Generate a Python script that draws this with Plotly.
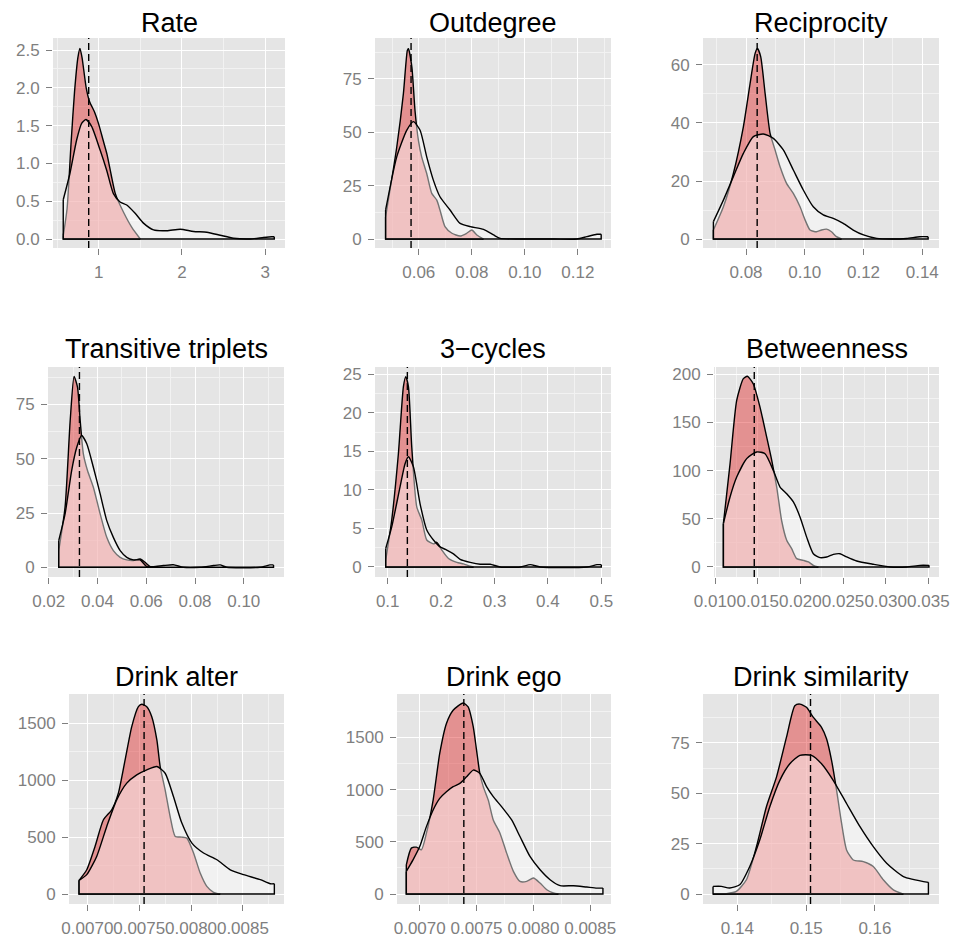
import plotly.graph_objects as go

TITLES = ["Rate", "Outdegree", "Reciprocity", "Transitive triplets", "3\u2212cycles",
          "Betweenness", "Drink alter", "Drink ego", "Drink similarity"]

# observed values (dashed lines)
OBS = [0.88, 0.0571, 0.0838, 0.0326, 0.1368, 0.0146, 0.007547, 0.007388, 0.15063]

# narrow density (red)
A_X = [
    [0.575, 0.62, 0.67, 0.71, 0.75, 0.775, 0.80, 0.85, 0.89, 0.95, 1.0, 1.05, 1.1, 1.15, 1.2, 1.3, 1.4, 1.5],
    [0.0475, 0.0517, 0.0542, 0.0557, 0.0561, 0.0574, 0.0586, 0.0599, 0.0611, 0.063, 0.0649, 0.0668, 0.068,
     0.0699, 0.0725, 0.0756, 0.0781, 0.08, 0.0819, 0.0844],
    [0.0689, 0.0723, 0.0757, 0.0791, 0.0814, 0.0831, 0.0839, 0.085, 0.0865, 0.0882, 0.0899, 0.0916, 0.0938,
     0.0961, 0.0984, 0.1001, 0.1018, 0.104, 0.1057, 0.1074, 0.1091, 0.1108, 0.1125],
    [0.0241, 0.0267, 0.0288, 0.0304, 0.0318, 0.0329, 0.0342, 0.0359, 0.0383, 0.0411, 0.0438, 0.0465, 0.0493,
     0.052, 0.0547, 0.0575, 0.0595, 0.0616, 0.063],
    [0.0963, 0.1075, 0.12, 0.1294, 0.1338, 0.1388, 0.145, 0.1544, 0.1638, 0.1731, 0.1856, 0.1919, 0.2013,
     0.2138, 0.2294, 0.2419, 0.2544, 0.2606],
    [0.01098, 0.01176, 0.01254, 0.01332, 0.01379, 0.01449, 0.01527, 0.01605, 0.01664, 0.01723, 0.01781,
     0.0184, 0.01898, 0.01957, 0.02035, 0.02094, 0.02152, 0.02211],
    [0.00692, 0.006994, 0.007074, 0.007155, 0.007235, 0.007299, 0.007364, 0.007428, 0.007492, 0.007525,
     0.007573, 0.007621, 0.00767, 0.007702, 0.00775, 0.007798, 0.007847, 0.007911, 0.007959, 0.008024,
     0.008088, 0.008152, 0.008217, 0.008281],
    [0.006882, 0.006926, 0.006971, 0.007015, 0.007059, 0.007118, 0.007176, 0.007235, 0.007294, 0.007382,
     0.007426, 0.007471, 0.0075, 0.007529, 0.007559, 0.007603, 0.007647, 0.007706, 0.007765, 0.007824,
     0.007882, 0.007941, 0.008, 0.008059, 0.008118, 0.008176, 0.00822],
    [0.13646, 0.1384, 0.13985, 0.14131, 0.14277, 0.14422, 0.14568, 0.14714, 0.14835, 0.14908, 0.15005,
     0.15102, 0.15223, 0.15296, 0.15369, 0.15442, 0.15515, 0.15587, 0.15684, 0.1583, 0.15976, 0.16121,
     0.16267, 0.16413],
]
A_Y = [
    [0.05, 0.4, 1.3, 1.95, 2.4, 2.52, 2.4, 2.0, 1.82, 1.68, 1.52, 1.32, 1.12, 0.85, 0.6, 0.35, 0.15, 0.0],
    [10.4, 43, 68, 88.4, 89.2, 80.6, 60, 46, 38.5, 30.7, 21.4, 18.2, 13.6, 5.8, 2.7, 1.4, 2.7, 4.2, 1.9, 0],
    [3.1, 11.1, 22.6, 38.7, 53.7, 64, 65.7, 62.9, 50.2, 36.4, 30.7, 24.9, 19.2, 15.7, 11.1, 6.6, 3.1, 2.5,
     3.1, 3.4, 2.5, 0.8, 0],
    [7.7, 27.7, 67.6, 87.9, 83, 67.6, 52.3, 44.6, 36.9, 24.6, 13.8, 7.7, 4.6, 3.4, 3.1, 3.8, 2.3, 0.3, 0],
    [0.9, 6.1, 14.7, 23.4, 24.7, 23.4, 15.6, 7.8, 6.1, 3.5, 3.0, 3.2, 2.2, 1.1, 0.6, 0.4, 0.1, 0],
    [45, 107, 173, 195.5, 198, 190, 166, 135, 111, 83, 48, 27.7, 19, 8.7, 6.9, 5.2, 1.7, 0],
    [120, 213, 418, 652, 740, 886, 1178, 1471, 1646, 1667, 1646, 1558, 1354, 1120, 915, 681, 506, 500, 491,
     360, 184, 67, 15, 0],
    [280, 440, 449, 424, 583, 901, 1347, 1634, 1761, 1831, 1793, 1602, 1379, 1156, 1029, 901, 710, 583, 392,
     217, 121, 121, 153, 105, 41, 10, 0],
    [0, 0.2, 1.3, 7.1, 23.5, 43.3, 58, 77.8, 93.4, 94.2, 92.6, 87.7, 82.7, 77, 66.3, 51.5, 35, 21.9, 16.9,
     16.1, 13.7, 7.1, 2.1, 0],
]

# wide density (white)
B_X = [
    [0.574, 0.655, 0.735, 0.795, 0.847, 0.915, 1.016, 1.096, 1.177, 1.257, 1.337, 1.438, 1.538, 1.659, 1.82,
     1.98, 2.14, 2.3, 2.46, 2.62, 2.82, 2.98, 3.08, 3.11],
    [0.0475, 0.0517, 0.0555, 0.058, 0.0605, 0.063, 0.0655, 0.068, 0.0718, 0.0756, 0.0794, 0.0844, 0.0882,
     0.0907, 0.098, 0.111, 0.1196, 0.1234, 0.1272, 0.1288],
    [0.0689, 0.0723, 0.0757, 0.0791, 0.0825, 0.0859, 0.0893, 0.0927, 0.0961, 0.0995, 0.1029, 0.1063, 0.1097,
     0.1131, 0.1165, 0.12, 0.1245, 0.13, 0.1347, 0.1392, 0.142],
    [0.0241, 0.0267, 0.0294, 0.0315, 0.0335, 0.0356, 0.0383, 0.0411, 0.0438, 0.0465, 0.0493, 0.052, 0.0547,
     0.0575, 0.0602, 0.063, 0.067, 0.0711, 0.0752, 0.0821, 0.0876, 0.0903, 0.093, 0.1067, 0.1108, 0.1122],
    [0.0963, 0.1075, 0.1231, 0.1325, 0.1388, 0.1481, 0.1606, 0.1731, 0.1856, 0.1981, 0.2106, 0.2231, 0.2356,
     0.2544, 0.2731, 0.2919, 0.3106, 0.3481, 0.3669, 0.3856, 0.4731, 0.4919, 0.5],
    [0.01098, 0.01176, 0.01254, 0.01371, 0.01488, 0.01586, 0.01684, 0.01762, 0.0184, 0.01918, 0.01996,
     0.02074, 0.02152, 0.0223, 0.02309, 0.02387, 0.02465, 0.02543, 0.0266, 0.02855, 0.03051, 0.03246,
     0.03402, 0.03508],
    [0.00692, 0.006994, 0.00709, 0.007187, 0.007283, 0.00738, 0.007476, 0.007573, 0.00767, 0.00775, 0.00783,
     0.007911, 0.008008, 0.00812, 0.008249, 0.008378, 0.008506, 0.008667, 0.008764, 0.008803],
    [0.006882, 0.006941, 0.007, 0.007059, 0.007118, 0.007176, 0.007235, 0.007294, 0.007353, 0.007412,
     0.007471, 0.007529, 0.007588, 0.007647, 0.00772, 0.007809, 0.007882, 0.00797, 0.008059, 0.008147,
     0.008235, 0.008353, 0.00847, 0.008559, 0.008612],
    [0.13646, 0.13767, 0.13888, 0.14034, 0.1418, 0.14325, 0.14471, 0.14617, 0.14762, 0.14908, 0.15078,
     0.15223, 0.15393, 0.15587, 0.15782, 0.15976, 0.1617, 0.16413, 0.16777],
]
B_Y = [
    [0.52, 0.87, 1.31, 1.53, 1.58, 1.49, 1.18, 0.91, 0.60, 0.49, 0.45, 0.34, 0.21, 0.12, 0.11, 0.13, 0.10,
     0.09, 0.05, 0.01, 0.0, 0.02, 0.03, 0.03],
    [13.6, 38.5, 51, 55, 51, 38.5, 27.6, 19.8, 13.6, 7.3, 5.8, 4.5, 1.9, 0.3, 0, 0, 0, 1.1, 2.2, 2.2],
    [6.0, 13.4, 21.5, 29.5, 35.3, 36.2, 34.7, 30.7, 23.8, 16.9, 11.1, 8.3, 7.1, 5.4, 3.1, 1.4, 0.2, 0, 0.2,
     0.8, 0.8],
    [12.3, 24.6, 44.6, 55.3, 60.7, 56.9, 46.1, 33.8, 21.5, 13.8, 7.7, 4.6, 3.4, 3.4, 0.3, 0.3, 0.8, 1.2, 0,
     0, 0.8, 1.1, 0, 0, 1.1, 1.1],
    [2.4, 5.2, 10.4, 13.4, 14.3, 13.0, 8.2, 4.8, 3.5, 2.6, 2.2, 1.7, 1.0, 0.6, 0.35, 0.35, 0, 0, 0.3, 0, 0,
     0.3, 0.3],
    [45, 72.7, 93.4, 112.5, 119.4, 117.6, 100, 83, 76, 67.5, 52, 31, 13.8, 9.7, 10.4, 13.1, 13.8, 10.4, 6.2,
     2.8, 0, 0, 1.7, 1.7],
    [120, 170, 330, 594, 827, 974, 1047, 1091, 1120, 1061, 857, 623, 447, 360, 301, 213, 170, 126, 90, 90],
    [217, 328, 455, 646, 806, 917, 981, 1029, 1060, 1124, 1188, 1156, 1029, 933, 838, 710, 551, 360, 232,
     137, 80, 80, 67, 57, 57],
    [3.8, 3.8, 3.0, 4.6, 13.7, 26.8, 43.3, 56.4, 64.6, 68.8, 68.8, 64.6, 56.4, 44.9, 33.4, 23.5, 15.3, 8.7,
     5.8],
]

X_TICKS = [
    ["1", "2", "3"],
    ["0.06", "0.08", "0.10", "0.12"],
    ["0.08", "0.10", "0.12", "0.14"],
    ["0.02", "0.04", "0.06", "0.08", "0.10"],
    ["0.1", "0.2", "0.3", "0.4", "0.5"],
    ["0.010", "0.015", "0.020", "0.025", "0.030", "0.035"],
    ["0.0070", "0.0075", "0.0080", "0.0085"],
    ["0.0070", "0.0075", "0.0080", "0.0085"],
    ["0.14", "0.15", "0.16"],
]
Y_TICKS = [
    ["0.0", "0.5", "1.0", "1.5", "2.0", "2.5"],
    ["0", "25", "50", "75"],
    ["0", "20", "40", "60"],
    ["0", "25", "50", "75"],
    ["0", "5", "10", "15", "20", "25"],
    ["0", "50", "100", "150", "200"],
    ["0", "500", "1000", "1500"],
    ["0", "500", "1000", "1500"],
    ["0", "25", "50", "75"],
]

# layout (pixels)
W, H = 958, 940
PX_X = [(53, 285), (375, 611), (703, 939), (48, 284), (375, 611), (714, 939),
        (69, 284), (397, 611), (703, 939)]
PX_Y = [(38, 248)] * 3 + [(367, 577)] * 3 + [(694, 904)] * 3
TITLE_Y = [23, 23, 23, 349, 349, 349, 677, 677, 677]
X_RANGE = [(0.451, 3.239), (0.0435, 0.1325), (0.06536, 0.1457), (0.0197, 0.1165), (0.0762, 0.5181),
           (0.00988, 0.03625), (0.006823, 0.008896), (0.0068, 0.008683), (0.135, 0.16931)]
Y_RANGE = [(-0.119, 2.659), (-4.21, 94.2), (-3.1, 69.3), (-4.47, 92.3), (-1.30, 25.95), (-10.4, 207.6),
           (-87.7, 1757), (-95.5, 1917), (-4.93, 99.2)]

RED = "rgba(224,42,42,0.45)"
WHITE = "rgba(255,255,255,0.45)"
FONT = "Liberation Sans, Arial, Helvetica, sans-serif"
GREY = "#7F7F7F"


def minors(vals, lo, hi):
    step = vals[1] - vals[0]
    out = [vals[0] - step / 2] + [(a + b) / 2 for a, b in zip(vals[:-1], vals[1:])] + [vals[-1] + step / 2]
    return [v for v in out if lo <= v <= hi]


fig = go.Figure()
layout = dict(width=W, height=H, margin=dict(l=0, r=0, t=0, b=0, autoexpand=False), showlegend=False,
              paper_bgcolor="white", plot_bgcolor="#E5E5E5", font=dict(family=FONT))
annotations = []
shapes = []

for i in range(9):
    k = "" if i == 0 else str(i + 1)
    xr, yr = "x" + k, "y" + k
    line = dict(color="black", width=1.4, shape="spline", smoothing=0.6)
    edge = dict(color="black", width=1.4)
    for xs, ys, col in ((A_X[i], A_Y[i], RED), (B_X[i], B_Y[i], WHITE)):
        fig.add_trace(go.Scatter(x=xs, y=ys, mode="lines", fill="tozeroy", fillcolor=col, line=line,
                                 xaxis=xr, yaxis=yr, hoverinfo="skip"))
        fig.add_trace(go.Scatter(x=[xs[-1], xs[-1], xs[0], xs[0]], y=[ys[-1], 0, 0, ys[0]], mode="lines",
                                 line=edge, xaxis=xr, yaxis=yr, hoverinfo="skip"))
    xv = [float(t) for t in X_TICKS[i]]
    yv = [float(t) for t in Y_TICKS[i]]
    x0, x1 = PX_X[i]
    y0, y1 = PX_Y[i]
    common = dict(showline=False, zeroline=False, ticks="outside", ticklen=6, tickwidth=1.1,
                  tickcolor=GREY, tickfont=dict(size=17, color=GREY, family=FONT), automargin=False,
                  showgrid=True, gridcolor="white", gridwidth=1.3, tickmode="array")
    layout["xaxis" + k] = dict(common, domain=[x0 / W, x1 / W], range=list(X_RANGE[i]), anchor=yr,
                               tickvals=xv, ticktext=X_TICKS[i], tickangle=0, ticklabelstandoff=3,
                               minor=dict(tickmode="array", tickvals=minors(xv, *X_RANGE[i]), showgrid=True,
                                          gridcolor="#F2F2F2", gridwidth=0.6, ticks=""))
    layout["yaxis" + k] = dict(common, domain=[1 - y1 / H, 1 - y0 / H], range=list(Y_RANGE[i]), anchor=xr,
                               tickvals=yv, ticktext=Y_TICKS[i], ticklabelstandoff=3,
                               minor=dict(tickmode="array", tickvals=minors(yv, *Y_RANGE[i]), showgrid=True,
                                          gridcolor="#F2F2F2", gridwidth=0.6, ticks=""))
    shapes.append(dict(type="line", xref=xr, yref=yr + " domain", x0=OBS[i], x1=OBS[i], y0=0, y1=1,
                       line=dict(color="black", width=1.4, dash="7px,4px"), layer="above"))
    annotations.append(dict(text=TITLES[i], xref="paper", yref="paper", x=(x0 + x1) / 2 / W,
                            y=1 - TITLE_Y[i] / H, xanchor="center", yanchor="middle", showarrow=False,
                            font=dict(size=27, color="black", family=FONT)))

layout["annotations"] = annotations
layout["shapes"] = shapes
fig.update_layout(**layout)
fig.write_html("out.html")
